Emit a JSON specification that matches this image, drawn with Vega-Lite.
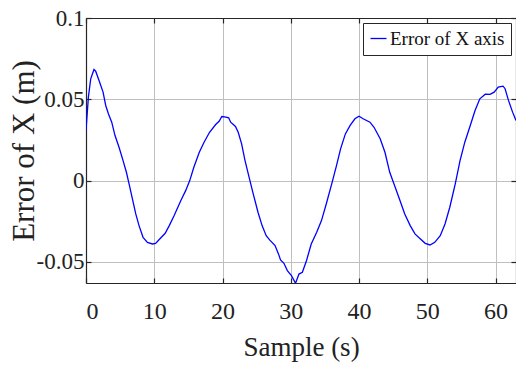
{
  "$schema": "https://vega.github.io/schema/vega-lite/v6.json",
  "width": 430,
  "height": 265,
  "autosize": {"type": "none"},
  "padding": {"left": 86, "top": 18, "right": 0, "bottom": 83},
  "title": {"text": "(a)", "orient": "top", "anchor": "middle", "dx": -34, "offset": 19, "baseline": "alphabetic", "fontSize": 25, "font": "Liberation Serif", "fontWeight": "normal", "color": "#262626"},
  "config": {"view": {"stroke": null}, "font": "Liberation Serif"},
  "data": {"values": [
    {"t": 0, "v": 0.0308}, {"t": 0.35, "v": 0.0513}, {"t": 0.69, "v": 0.0626}, {"t": 1.17, "v": 0.0683},
    {"t": 1.42, "v": 0.0673}, {"t": 2.0, "v": 0.0605}, {"t": 2.5, "v": 0.0544}, {"t": 2.89, "v": 0.0462},
    {"t": 3.28, "v": 0.0411}, {"t": 3.77, "v": 0.0359}, {"t": 4.25, "v": 0.0277}, {"t": 4.84, "v": 0.0205},
    {"t": 5.43, "v": 0.0123}, {"t": 5.92, "v": 0.0051}, {"t": 6.31, "v": -0.002}, {"t": 6.8, "v": -0.0113},
    {"t": 7.29, "v": -0.0205}, {"t": 7.77, "v": -0.0277}, {"t": 8.36, "v": -0.0349}, {"t": 9.0, "v": -0.038},
    {"t": 9.74, "v": -0.039}, {"t": 10.2, "v": -0.0386}, {"t": 10.8, "v": -0.0359}, {"t": 11.6, "v": -0.0324},
    {"t": 12.2, "v": -0.0277}, {"t": 12.9, "v": -0.0216}, {"t": 13.9, "v": -0.0123}, {"t": 14.6, "v": -0.0062},
    {"t": 15.2, "v": 0.0}, {"t": 15.8, "v": 0.0082}, {"t": 16.6, "v": 0.0174}, {"t": 17.3, "v": 0.0236},
    {"t": 18.1, "v": 0.0297}, {"t": 19.0, "v": 0.0345}, {"t": 19.5, "v": 0.0365}, {"t": 19.9, "v": 0.0394},
    {"t": 20.5, "v": 0.039}, {"t": 20.9, "v": 0.0386}, {"t": 21.2, "v": 0.0359}, {"t": 21.9, "v": 0.0333},
    {"t": 22.3, "v": 0.0297}, {"t": 22.8, "v": 0.0226}, {"t": 23.3, "v": 0.0123}, {"t": 23.9, "v": 0.002},
    {"t": 24.5, "v": -0.0082}, {"t": 25.2, "v": -0.0195}, {"t": 25.8, "v": -0.0277}, {"t": 26.4, "v": -0.0339},
    {"t": 26.9, "v": -0.0365}, {"t": 27.7, "v": -0.04}, {"t": 28.2, "v": -0.0451}, {"t": 28.5, "v": -0.0488},
    {"t": 29.0, "v": -0.0509}, {"t": 29.5, "v": -0.0554}, {"t": 30.1, "v": -0.0585}, {"t": 30.7, "v": -0.0632},
    {"t": 31.2, "v": -0.0575}, {"t": 31.7, "v": -0.0564}, {"t": 32.3, "v": -0.0493}, {"t": 33.0, "v": -0.039},
    {"t": 33.8, "v": -0.0318}, {"t": 34.5, "v": -0.0246}, {"t": 35.2, "v": -0.0144}, {"t": 36.0, "v": -0.002},
    {"t": 36.7, "v": 0.0092}, {"t": 37.3, "v": 0.0195}, {"t": 38.0, "v": 0.0287}, {"t": 38.7, "v": 0.0339},
    {"t": 39.4, "v": 0.038}, {"t": 40.0, "v": 0.0396}, {"t": 40.6, "v": 0.038}, {"t": 41.6, "v": 0.0359},
    {"t": 42.2, "v": 0.0328}, {"t": 43.1, "v": 0.0257}, {"t": 43.8, "v": 0.0174}, {"t": 44.5, "v": 0.0051},
    {"t": 45.3, "v": -0.0041}, {"t": 46.0, "v": -0.0123}, {"t": 46.7, "v": -0.0205}, {"t": 47.5, "v": -0.0277},
    {"t": 48.2, "v": -0.0328}, {"t": 49.0, "v": -0.0359}, {"t": 49.7, "v": -0.0386}, {"t": 50.4, "v": -0.0396},
    {"t": 51.1, "v": -0.038}, {"t": 51.9, "v": -0.0339}, {"t": 52.6, "v": -0.0267}, {"t": 53.3, "v": -0.0164},
    {"t": 54.1, "v": -0.002}, {"t": 54.8, "v": 0.0123}, {"t": 55.5, "v": 0.0236}, {"t": 56.3, "v": 0.0339},
    {"t": 57.0, "v": 0.0431}, {"t": 57.7, "v": 0.0503}, {"t": 58.5, "v": 0.0531}, {"t": 59.2, "v": 0.053},
    {"t": 59.8, "v": 0.0544}, {"t": 60.4, "v": 0.0575}, {"t": 61.1, "v": 0.0581}, {"t": 61.4, "v": 0.0565},
    {"t": 61.9, "v": 0.0493}, {"t": 62.5, "v": 0.0421}, {"t": 63.0, "v": 0.0369}
  ]},
  "layer": [
    {
      "mark": {"type": "line", "strokeWidth": 1.3, "clip": true, "interpolate": "linear"},
      "encoding": {
        "x": {"field": "t", "type": "quantitative",
          "scale": {"domain": [0, 63], "nice": false, "zero": false},
          "axis": {"values": [0, 10, 20, 30, 40, 50, 60], "format": "d", "grid": true, "gridColor": "#bfbfbf", "gridWidth": 1,
            "domainColor": "#262626", "domainWidth": 1.2, "tickColor": "#262626", "tickSize": -5, "tickWidth": 1.2,
            "labelFontSize": 24, "labelColor": "#222222", "labelPadding": 21, "labelFont": "Times New Roman",
            "title": "Sample (s)", "titleFontSize": 27, "titleFontWeight": "normal", "titleColor": "#222222", "titleFont": "Times New Roman",
            "titleY": 64, "titleBaseline": "middle"}},
        "y": {"field": "v", "type": "quantitative",
          "scale": {"domain": [-0.063, 0.1], "nice": false, "zero": false},
          "axis": {"values": [-0.05, 0, 0.05, 0.1], "labelExpr": "'' + datum.value", "grid": true, "gridColor": "#bfbfbf", "gridWidth": 1,
            "domainColor": "#262626", "domainWidth": 1.2, "tickColor": "#262626", "tickSize": -5, "tickWidth": 1.2,
            "labelFontSize": 23, "labelColor": "#222222", "labelPadding": 7, "labelFont": "Times New Roman",
            "title": "Error of X (m)", "titleFontSize": 31, "titleFontWeight": "normal", "titleColor": "#222222", "titleFont": "Times New Roman",
            "titleX": -62, "titleY": 132.5, "titleAngle": -90, "titleAlign": "center", "titleBaseline": "middle"}},
        "color": {"datum": "Error of X axis", "type": "nominal",
          "scale": {"range": ["#0000ff"]},
          "legend": {"title": null, "orient": "top-right", "offset": 5, "strokeColor": "#262626", "fillColor": "#ffffff", "padding": 6,
            "symbolType": "stroke", "symbolSize": 256, "symbolStrokeWidth": 1.3, "labelFontSize": 19, "labelFont": "Times New Roman",
            "labelColor": "#111111", "labelOffset": 2}}
      }
    },
    {
      "mark": {"type": "line", "opacity": 0},
      "encoding": {
        "x": {"field": "t", "type": "quantitative",
          "axis": {"orient": "top", "values": [0, 10, 20, 30, 40, 50, 60], "labels": false, "grid": false, "title": null,
            "domainColor": "#262626", "domainWidth": 1.2, "tickColor": "#262626", "tickSize": -5, "tickWidth": 1.2}},
        "y": {"field": "v", "type": "quantitative",
          "axis": {"orient": "right", "values": [-0.05, 0, 0.05, 0.1], "labels": false, "grid": false, "title": null,
            "domainColor": "#262626", "domainWidth": 1.2, "tickColor": "#262626", "tickSize": -5, "tickWidth": 1.2}}
      }
    }
  ],
  "resolve": {"axis": {"x": "independent", "y": "independent"}}
}
